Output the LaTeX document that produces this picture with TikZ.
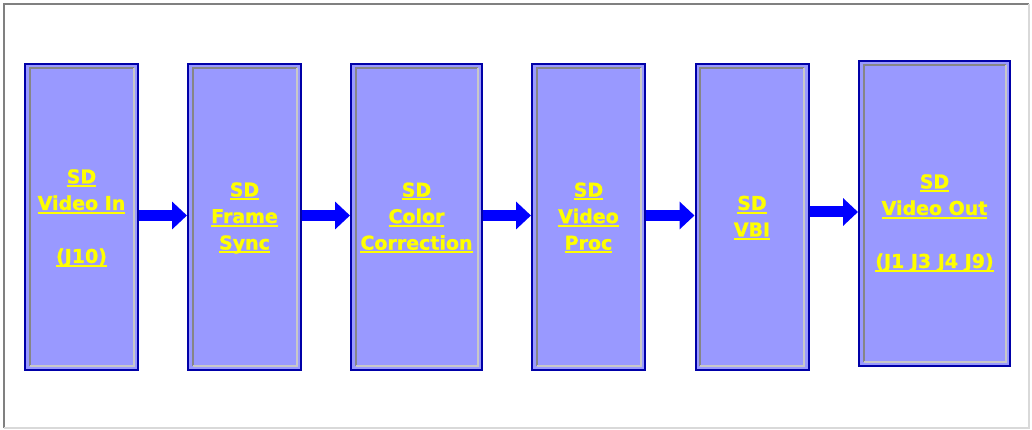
\documentclass[tikz,border=0pt]{standalone}
\usepackage{fontspec}
\newfontfamily\boxfont{DejaVu Sans}[BoldFeatures={FakeBold=1.2}]
\usetikzlibrary{arrows.meta,calc}
\definecolor{boxfill}{HTML}{9999FF}
\definecolor{boxline}{HTML}{0000A8}
\definecolor{bevd}{HTML}{868686}
\definecolor{bevl}{HTML}{C8C8C8}
\definecolor{arrblue}{HTML}{0000FF}
\definecolor{txtyellow}{HTML}{FFFF00}
\newcommand\uln[1]{\setbox0\hbox{#1}\rlap{\rule[-3.8pt]{\wd0}{2pt}}\box0}
\newcommand\bevelbox[1]{%
  \draw[bevdark] ($(#1.south west)+(5.5,-5.5)$) |- ($(#1.north east)+(-5.5,5.5)$);
  \draw[bevlight] ($(#1.south west)+(5.5,-5.5)$) -| ($(#1.north east)+(-5.5,5.5)$);}
\tikzset{
  blockbox/.style={draw=boxline, line width=2pt, fill=boxfill, inner sep=0pt,
    minimum width=#1, minimum height=306pt},
  blockbox/.default=113pt,
  bevdark/.style={draw=bevd, line width=2pt},
  bevlight/.style={draw=bevl, line width=2pt},
  lbl/.style={text=txtyellow, align=center, inner sep=0pt,
    font=\boxfont\bfseries\fontsize{19}{26.5}\selectfont},
  flow/.style={draw=arrblue, line width=11pt,
    -{Triangle[length=15pt,width=27pt]}},
}
\begin{document}
\begin{tikzpicture}[x=1pt,y=-1pt]
\useasboundingbox (0,0) rectangle (1032,430);
\fill[white] (0,0) rectangle (1032,430);
% window frame
\draw[draw=black!50, line width=2pt] (4,428) -- (4,4) -- (1029,4);
\draw[draw=black!15, line width=2pt] (4,428) -- (1029,428) -- (1029,4);
% blocks
\node[blockbox] (b1) at (81.5,217) {};
\node[blockbox] (b2) at (244.5,217) {};
\node[blockbox=131pt] (b3) at (416.5,217) {};
\node[blockbox] (b4) at (588.5,217) {};
\node[blockbox] (b5) at (752,217) {};
\node[blockbox=151pt, minimum height=305pt] (b6) at (934.5,213.5) {};
\bevelbox{b1}\bevelbox{b2}\bevelbox{b3}\bevelbox{b4}\bevelbox{b5}\bevelbox{b6}
% labels
\node[lbl] (t1) at (81.5,218) {\uln{SD}\\\uln{Video In}\\\mbox{}\\\uln{(J10)}};
\node[lbl] (t2) at (244.5,218) {\uln{SD}\\\uln{Frame}\\\uln{Sync}};
\node[lbl] (t3) at (416.5,218) {\uln{SD}\\\uln{Color}\\\uln{Correction}};
\node[lbl] (t4) at (588.5,218) {\uln{SD}\\\uln{Video}\\\uln{Proc}};
\node[lbl] (t5) at (752,218) {\uln{SD}\\\uln{VBI}};
\node[lbl] (t6) at (934.5,223) {\uln{SD}\\\uln{Video Out}\\\mbox{}\\\uln{(J1 J3 J4 J9)}};
% connectors
\draw[flow] ([yshift=1.5pt]b1.east) -- ([yshift=1.5pt]b2.west);
\draw[flow] ([yshift=1.5pt]b2.east) -- ([yshift=1.5pt]b3.west);
\draw[flow] ([yshift=1.5pt]b3.east) -- ([yshift=1.5pt]b4.west);
\draw[flow] ([yshift=1.5pt]b4.east) -- ([yshift=1.5pt]b5.west);
\draw[flow] ([yshift=5pt]b5.east) -- ([yshift=1.5pt]b6.west);
\end{tikzpicture}
\end{document}
